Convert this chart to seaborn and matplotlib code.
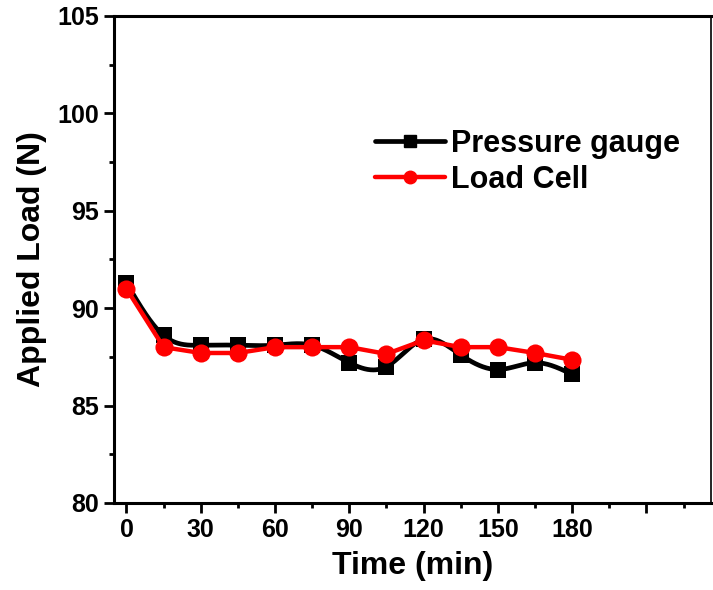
import numpy as np
import pandas as pd
import matplotlib
matplotlib.use("Agg")
import matplotlib.pyplot as plt
from matplotlib.lines import Line2D
from matplotlib.ticker import MultipleLocator
import seaborn as sns

# ---- data ----
time_min = [0, 15, 30, 45, 60, 75, 90, 105, 120, 135, 150, 165, 180]
pressure_gauge = [91.3, 88.6, 88.1, 88.1, 88.1, 88.1, 87.2, 87.0, 88.4, 87.6, 86.85, 87.2, 86.6]
load_cell = [91.0, 88.0, 87.7, 87.7, 88.0, 88.0, 88.0, 87.65, 88.35, 88.0, 88.0, 87.7, 87.35]
x_tick_values = [0, 30, 60, 90, 120, 150, 180, 210]
x_tick_labels = ["0", "30", "60", "90", "120", "150", "180", ""]
y_tick_values = [80, 85, 90, 95, 100, 105]
series_names = ["Pressure gauge", "Load Cell"]

sns.set_theme(style="white")
plt.rcParams["font.family"] = ["Liberation Sans", "DejaVu Sans"]
plt.rcParams["font.weight"] = "bold"
plt.rcParams["text.color"] = "black"
plt.rcParams["axes.labelcolor"] = "black"
plt.rcParams["xtick.color"] = "black"
plt.rcParams["ytick.color"] = "black"


def natural_spline(x, y, n=600):
    """Smooth connecting curve (like Origin's spline connector) through the points."""
    x = np.asarray(x, float)
    y = np.asarray(y, float)
    k = len(x)
    h = np.diff(x)
    A = np.zeros((k, k))
    b = np.zeros(k)
    A[0, 0] = 1
    A[-1, -1] = 1
    for i in range(1, k - 1):
        A[i, i - 1] = h[i - 1]
        A[i, i] = 2 * (h[i - 1] + h[i])
        A[i, i + 1] = h[i]
        b[i] = 6 * ((y[i + 1] - y[i]) / h[i] - (y[i] - y[i - 1]) / h[i - 1])
    M = np.linalg.solve(A, b)
    xs = np.linspace(x[0], x[-1], n)
    idx = np.clip(np.searchsorted(x, xs) - 1, 0, k - 2)
    x0, x1 = x[idx], x[idx + 1]
    hh = x1 - x0
    t0 = x1 - xs
    t1 = xs - x0
    ys = (M[idx] * t0 ** 3 / (6 * hh) + M[idx + 1] * t1 ** 3 / (6 * hh)
          + (y[idx] / hh - M[idx] * hh / 6) * t0
          + (y[idx + 1] / hh - M[idx + 1] * hh / 6) * t1)
    return xs, ys


df = pd.DataFrame({"time": time_min, "pg": pressure_gauge, "lc": load_cell})
xs, ys = natural_spline(time_min, pressure_gauge)
smooth = pd.DataFrame({"time": xs, "pg": ys})

fig = plt.figure(figsize=(7.13, 5.90), dpi=100)
ax = fig.add_axes([0.160, 0.1475, 0.837, 0.8254])

# Pressure gauge: smooth black line + squares
sns.lineplot(data=smooth, x="time", y="pg", ax=ax, color="black", lw=3.4,
             estimator=None, sort=False, zorder=2)
sns.scatterplot(data=df, x="time", y="pg", ax=ax, color="black", marker="s",
                s=130, edgecolor="black", linewidth=0, zorder=3)
# Load cell: red line + circles
sns.lineplot(data=df, x="time", y="lc", ax=ax, color="#ff0000", lw=3.2,
             estimator=None, sort=False, zorder=4)
sns.scatterplot(data=df, x="time", y="lc", ax=ax, color="#ff0000", marker="o",
                s=170, edgecolor="#ff0000", linewidth=0, zorder=5)

ax.set_xlim(-5, 236)
ax.set_ylim(80, 105)
ax.set_xticks(x_tick_values)
ax.set_xticklabels(x_tick_labels)
ax.set_yticks(y_tick_values)
ax.set_yticklabels([str(v) for v in y_tick_values])
ax.xaxis.set_minor_locator(MultipleLocator(15))
ax.yaxis.set_minor_locator(MultipleLocator(2.5))

ax.tick_params(axis="both", which="major", direction="out", length=7, width=2,
               color="black", labelcolor="black", labelsize=18, pad=4,
               bottom=True, left=True, top=False, right=False)
ax.tick_params(axis="both", which="minor", direction="out", length=3.5, width=2,
               color="black", bottom=True, left=True, top=False, right=False)
for lab in ax.get_xticklabels() + ax.get_yticklabels():
    lab.set_fontweight("bold")

for side in ["left", "bottom", "top", "right"]:
    ax.spines[side].set_visible(True)
    ax.spines[side].set_color("black")
ax.spines["left"].set_linewidth(2.2)
ax.spines["bottom"].set_linewidth(2.2)
ax.spines["top"].set_linewidth(2.2)
ax.spines["right"].set_linewidth(1.2)

ax.set_xlabel("Time (min)", fontsize=23, fontweight="bold", labelpad=6, color="black")
ax.set_ylabel("Applied Load (N)", fontsize=23, fontweight="bold", labelpad=7, color="black")

handles = [
    Line2D([0], [0], color="black", lw=3.4, marker="s", markersize=8),
    Line2D([0], [0], color="#ff0000", lw=3.2, marker="o", markersize=9),
]
leg = ax.legend(handles, series_names, loc="upper left",
                bbox_to_anchor=(0.437, 0.768), frameon=False,
                prop={"family": "Liberation Sans", "weight": "bold", "size": 22},
                handlelength=2.3, handletextpad=0.2, labelspacing=0.2,
                borderaxespad=0, borderpad=0)
for t in leg.get_texts():
    t.set_color("black")

fig.savefig("out.png", dpi=100, facecolor="white")
